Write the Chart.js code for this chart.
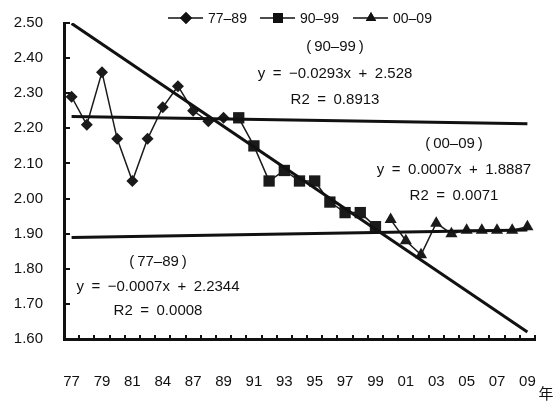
<!DOCTYPE html>
<html>
<head>
<meta charset="utf-8">
<script src="https://cdn.jsdelivr.net/npm/chart.js@4.4.0/dist/chart.umd.min.js"></script>
<style>
  html, body { margin: 0; padding: 0; background: #fff; }
  #wrap { position: relative; width: 558px; height: 401px; }
</style>
</head>
<body>
<div id="wrap"><canvas id="c"></canvas></div>
<script>
// Survey years (two-digit), one category per year on record
const years = ['77','78','79','80','81','83','84','86','87','88','89',
               '90','91','92','93','94','95','96','97','98','99',
               '00','01','02','03','04','05','06','07','08','09'];

// Values for each period
const values7789 = [2.29, 2.21, 2.36, 2.17, 2.05, 2.17, 2.26, 2.32, 2.25, 2.22, 2.23];
const values9099 = [2.23, 2.15, 2.05, 2.08, 2.05, 2.05, 1.99, 1.96, 1.96, 1.92];
const values0009 = [1.94, 1.88, 1.84, 1.93, 1.90, 1.91, 1.91, 1.91, 1.91, 1.92];

// First category index of each period
const startIndex = [0, 11, 21];

// Series names
const seriesNames = ['77–89', '90–99', '00–09'];

// Linear trend fits (x = 1 .. number of categories)
const trendSlope = [-0.0007, -0.0293, 0.0007];
const trendIntercept = [2.2344, 2.528, 1.8887];
const trendR2 = ['0.0008', '0.8913', '0.0071'];

// Y-axis tick range
const yMin = 1.6, yMax = 2.5, yStep = 0.1;

function placeSeries(vals, start) {
  const out = new Array(years.length).fill(null);
  vals.forEach((v, k) => { out[start + k] = v; });
  return out;
}
function trendLine(i) {
  const out = new Array(years.length).fill(null);
  const n = years.length;
  out[0] = trendIntercept[i] + trendSlope[i] * 1;
  out[n - 1] = trendIntercept[i] + trendSlope[i] * n;
  return out;
}
const SP = '\u2002';
const THIN = '\u2009';
function eqText(i) {
  const s = trendSlope[i], b = trendIntercept[i];
  const sd = String(Math.abs(s)).split('.')[1].length;
  const bd = String(b).split('.')[1].length;
  return 'y' + SP + '=' + SP + (s < 0 ? '−' : '') + Math.abs(s).toFixed(sd) + 'x' + SP + '+' + SP + b.toFixed(bd);
}

const FONT = '"Liberation Sans", Arial, sans-serif';
const markerStyle = ['rectRot', 'rect', 'triangle'];
const markerRadius = [6, 8, 7];

const seriesSets = [values7789, values9099, values0009].map((vals, i) => ({
  label: seriesNames[i],
  data: placeSeries(vals, startIndex[i]),
  borderColor: '#1a1a1a',
  backgroundColor: '#1a1a1a',
  borderWidth: 1.5,
  pointStyle: markerStyle[i],
  pointRadius: markerRadius[i],
  pointHoverRadius: markerRadius[i],
  pointBorderWidth: 0,
  spanGaps: false,
  tension: 0,
  order: 2
}));

const trendSets = [0, 1, 2].map(i => ({
  label: 'trend' + i,
  data: trendLine(i),
  borderColor: '#111',
  borderWidth: 3,
  pointRadius: 0,
  spanGaps: true,
  tension: 0,
  order: 1
}));

// Inward tick marks on both axes, legend row and fit annotations
const decorations = {
  id: 'decorations',
  afterDraw(chart) {
    const ctx = chart.ctx;
    const xs = chart.scales.x, ys = chart.scales.y;
    const area = chart.chartArea;
    ctx.save();
    ctx.strokeStyle = '#111';
    ctx.lineWidth = 2;
    // y ticks pointing into the plot
    ys.ticks.forEach((t, k) => {
      const y = Math.round(ys.getPixelForTick(k));
      ctx.beginPath();
      ctx.moveTo(area.left, y);
      ctx.lineTo(area.left + 6, y);
      ctx.stroke();
    });
    // x ticks between categories, pointing up
    const n = years.length;
    for (let k = 1; k <= n; k++) {
      const x = Math.round(xs.left + k * (xs.width / n));
      ctx.beginPath();
      ctx.moveTo(x, area.bottom);
      ctx.lineTo(x, area.bottom - 4);
      ctx.stroke();
    }

    // legend
    const legendX = [168, 260, 353];
    const legendY = 18;
    const legendRadius = [6, 7, 6];
    ctx.font = '14px ' + FONT;
    ctx.textBaseline = 'middle';
    ctx.textAlign = 'left';
    ctx.fillStyle = '#111';
    seriesNames.forEach((name, i) => {
      const x0 = legendX[i];
      ctx.lineWidth = 1.5;
      ctx.beginPath();
      ctx.moveTo(x0, legendY);
      ctx.lineTo(x0 + 35, legendY);
      ctx.stroke();
      Chart.helpers.drawPoint(ctx, {
        pointStyle: markerStyle[i], radius: legendRadius[i], borderWidth: 0
      }, x0 + 18, legendY);
      ctx.fill();
      ctx.fillText(name, x0 + 40, legendY + 1);
    });

    // trend annotations
    const notes = [
      { x: 158, y: [262, 287, 311] },
      { x: 335, y: [47, 74, 100] },
      { x: 454, y: [144, 170, 196] }
    ];
    ctx.textAlign = 'center';
    ctx.font = '15px ' + FONT;
    notes.forEach((p, i) => {
      ctx.fillText('(' + THIN + seriesNames[i] + THIN + ')', p.x, p.y[0]);
      ctx.fillText(eqText(i), p.x, p.y[1]);
      ctx.fillText('R2' + SP + '=' + SP + trendR2[i], p.x, p.y[2]);
    });

    // unit label for the category axis
    ctx.font = '15px "Noto Sans CJK JP", sans-serif';
    ctx.fillText('年', 546, 393);
    ctx.restore();
  }
};

new Chart(document.getElementById('c'), {
  type: 'line',
  data: { labels: years, datasets: [...seriesSets, ...trendSets] },
  options: {
    responsive: true,
    maintainAspectRatio: false,
    animation: false,
    events: [],
    layout: { padding: { left: 0, right: 23, top: 23, bottom: 0 } },
    plugins: { legend: { display: false }, tooltip: { enabled: false } },
    scales: {
      x: {
        type: 'category',
        offset: true,
        grid: { display: false },
        border: { display: true, color: '#111', width: 3 },
        ticks: {
          autoSkip: false,
          maxRotation: 0,
          padding: 26,
          color: '#111',
          font: { family: FONT, size: 15 },
          callback: (v, i) => (i % 2 === 0 ? years[i] : '')
        },
        afterFit: s => { s.height = 401 - 339; s.paddingLeft = 0; s.paddingRight = 0; }
      },
      y: {
        min: yMin,
        max: yMax,
        grid: { display: false },
        border: { display: true, color: '#111', width: 3 },
        ticks: {
          stepSize: yStep,
          padding: 13,
          color: '#111',
          font: { family: FONT, size: 15 },
          callback: v => Number(v).toFixed(2)
        },
        afterFit: s => { s.width = 64; s.paddingTop = 0; s.paddingBottom = 0; }
      }
    }
  },
  plugins: [decorations]
});
</script>
</body>
</html>
